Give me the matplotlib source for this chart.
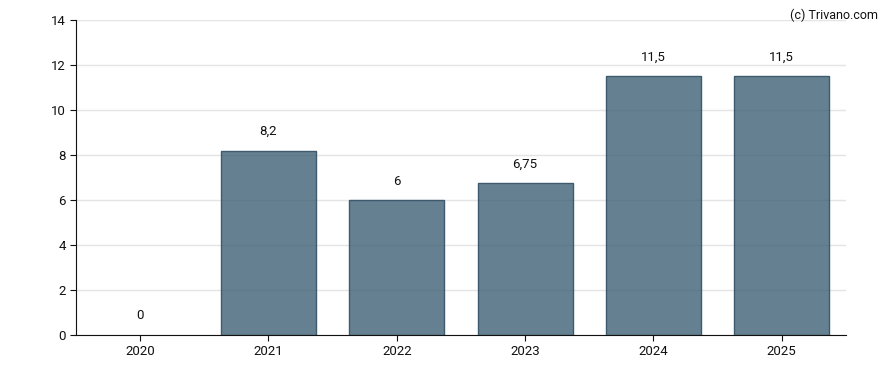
import matplotlib.pyplot as plt
import numpy as np

years = ["2020", "2021", "2022", "2023", "2024", "2025"]
values = [0, 8.2, 6, 6.75, 11.5, 11.5]
labels = ["0", "8,2", "6", "6,75", "11,5", "11,5"]

plt.rcParams['font.family'] = ['Roboto', 'DejaVu Sans']

fig = plt.figure(figsize=(8.88, 3.7), dpi=100)
ax = fig.add_axes([0.0856, 0.0946, 0.867, 0.8513])

x = np.arange(len(years))
edges = ['#3d5a6e' if v > 0 else 'none' for v in values]
ax.bar(x, values, width=0.74, color=(0.196, 0.341, 0.424, 0.75),
       edgecolor=edges, linewidth=1, zorder=2)

for xi, v, lab in zip(x, values, labels):
    ax.annotate(lab, (xi, v), xytext=(0, 9), textcoords='offset points',
                ha='center', va='bottom', fontsize=9.5, color='#111111')

ax.set_xlim(-0.5, 5.5)
ax.set_ylim(0, 14)
ax.set_yticks(range(0, 15, 2))
ax.set_xticks(x)
ax.set_xticklabels(years)
ax.tick_params(labelsize=9.5, length=4, colors='#111111')
ax.set_axisbelow(True)
ax.yaxis.grid(True, color='#e4e4e4', linewidth=1)
for s in ['top', 'right']:
    ax.spines[s].set_visible(False)
for s in ['left', 'bottom']:
    ax.spines[s].set_color('#111111')
    ax.spines[s].set_zorder(3)

fig.text(0.989, 0.978, "(c) Trivano.com", ha='right', va='top', fontsize=9, color='#111111')

fig.savefig("out.png", dpi=100)
